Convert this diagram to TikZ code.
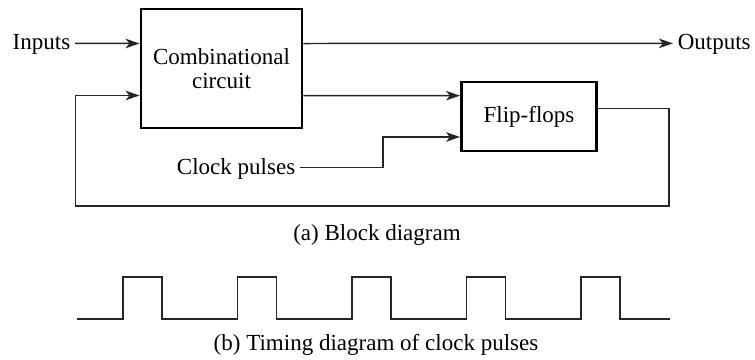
\documentclass[tikz,border=0pt]{standalone}
\usepackage{fontspec}
\setmainfont{Liberation Serif}
\usepackage{tikz}
\usetikzlibrary{arrows.meta,positioning,calc}

\begin{document}
\begin{tikzpicture}[
    every node/.style={font=\fontsize{13.1}{13.4}\selectfont},
    box/.style={draw,line width=1.6pt,align=center,inner sep=0pt},
    lbl/.style={inner sep=2.5pt,text height=0.75em,text depth=0pt},
    wire/.style={line width=0.85pt,black!85},
    arr/.style={wire,-{Stealth[length=8pt,width=5.4pt,inset=2.2pt]}}
]
\useasboundingbox (0,0) rectangle (15.1,-7.18);

\node[box,minimum width=3.22cm,minimum height=2.38cm] (comb) at (4.43,-1.37) {Combinational\\circuit};
\node[box,minimum width=2.70cm,minimum height=1.38cm] (ff) at (10.58,-2.33) {Flip-flops};
\node[lbl,anchor=east] (inputs) at (1.5,-0.867) {Inputs};
\node[lbl,anchor=west] (outputs) at (13.46,-0.867) {Outputs};
\node[lbl,anchor=east] (clock) at (6.0,-3.354) {Clock pulses};
\coordinate (loopR) at (13.38,-4.12);
\coordinate (loopL) at (1.51,-4.12);

\draw[arr] (inputs) -- ([yshift=0.5cm]comb.west);
\draw[arr] ([yshift=0.5cm]comb.east) -- (outputs);
\draw[arr] ([yshift=-0.54cm]comb.east) -- ([yshift=0.417cm]ff.west);
\draw[arr] (clock.east) -- ++(1.66,0) |- ([yshift=-0.41cm]ff.west);
\draw[arr] ([yshift=0.16cm]ff.east) -| (loopR) -- (loopL) |- ([yshift=-0.54cm]comb.west);

\node[anchor=base] (capa) at (7.54,-4.8) {(a) Block diagram};

\draw[wire] (1.54,-6.38) foreach \i in {0,...,4}{
    -- ({2.46+2.29*\i},-6.38) -- ++(0,0.84) -- ++(0.78,0) -- ++(0,-0.84)} -- (13.4,-6.38);

\node[anchor=base] (capb) at (7.52,-7.0) {(b) Timing diagram of clock pulses};
\end{tikzpicture}
\end{document}
